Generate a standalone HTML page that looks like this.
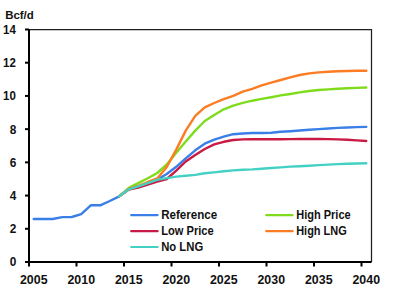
<!DOCTYPE html>
<html><head><meta charset="utf-8"><style>
html,body{margin:0;padding:0;background:#fff;width:397px;height:298px;overflow:hidden}
svg{display:block}
.t{font-family:"Liberation Sans",sans-serif;font-weight:bold;font-size:11px;fill:#1a1a1a}
.ty{font-family:"Liberation Sans",sans-serif;font-weight:bold;font-size:11.5px;fill:#111}
.tyl{font-family:"Liberation Sans",sans-serif;font-weight:bold;font-size:12px;fill:#111}
.tl{font-family:"Liberation Sans",sans-serif;font-weight:bold;font-size:12px;fill:#111}
.tx{font-family:"Liberation Sans",sans-serif;font-weight:bold;font-size:12.4px;fill:#111}
</style></head><body>
<svg width="397" height="298" viewBox="0 0 397 298">
<path d="M29,29.5H371.5V262" fill="none" stroke="#1e1e1e" stroke-width="1.25"/>
<path d="M29,29.5V263" stroke="#000" stroke-width="2" fill="none"/>
<path d="M28,262H371.5" stroke="#000" stroke-width="2" fill="none"/>
<path d="M25,262.00H29" stroke="#000" stroke-width="2"/>
<path d="M25,228.79H29" stroke="#000" stroke-width="2"/>
<path d="M25,195.57H29" stroke="#000" stroke-width="2"/>
<path d="M25,162.36H29" stroke="#000" stroke-width="2"/>
<path d="M25,129.14H29" stroke="#000" stroke-width="2"/>
<path d="M25,95.93H29" stroke="#000" stroke-width="2"/>
<path d="M25,62.71H29" stroke="#000" stroke-width="2"/>
<path d="M25,29.50H29" stroke="#000" stroke-width="2"/>
<path d="M29.00,262V266.5" stroke="#000" stroke-width="2"/>
<path d="M76.50,262V266.5" stroke="#000" stroke-width="2"/>
<path d="M124.00,262V266.5" stroke="#000" stroke-width="2"/>
<path d="M171.50,262V266.5" stroke="#000" stroke-width="2"/>
<path d="M219.00,262V266.5" stroke="#000" stroke-width="2"/>
<path d="M266.50,262V266.5" stroke="#000" stroke-width="2"/>
<path d="M314.00,262V266.5" stroke="#000" stroke-width="2"/>
<path d="M361.50,262V266.5" stroke="#000" stroke-width="2"/>
<polyline points="33.75,219.00 43.25,219.00 52.75,219.00 62.25,217.10 71.75,217.00 81.25,214.20 90.75,205.30 100.25,205.30 109.75,201.00 119.25,196.30 128.75,189.20 138.25,186.50 147.75,183.20 157.25,179.60 166.75,174.00 176.25,166.80 185.75,158.30 195.25,150.30 204.75,143.70 214.25,139.60 223.75,136.60 233.25,134.20 242.75,133.50 252.25,133.00 261.75,133.00 271.25,132.70 280.75,131.80 290.25,131.20 299.75,130.50 309.25,129.80 318.75,129.10 328.25,128.50 337.75,127.90 347.25,127.50 356.75,127.10 366.25,126.90" fill="none" stroke="#3a7fe8" stroke-width="2.4" stroke-linejoin="round" stroke-linecap="round"/>
<polyline points="119.25,196.30 128.75,187.80 138.25,183.10 147.75,178.30 157.25,173.00 166.75,164.50 176.25,152.80 185.75,141.50 195.25,130.60 204.75,121.00 214.25,115.00 223.75,109.30 233.25,105.70 242.75,102.90 252.25,100.70 261.75,98.90 271.25,97.20 280.75,95.40 290.25,94.00 299.75,92.40 309.25,91.00 318.75,90.00 328.25,89.40 337.75,88.70 347.25,88.30 356.75,87.90 366.25,87.50" fill="none" stroke="#7fdc1c" stroke-width="2.4" stroke-linejoin="round" stroke-linecap="round"/>
<polyline points="119.25,196.30 128.75,189.50 138.25,187.60 147.75,184.50 157.25,181.70 166.75,179.00 176.25,170.60 185.75,161.50 195.25,155.00 204.75,149.00 214.25,144.40 223.75,141.80 233.25,140.00 242.75,139.40 252.25,139.30 261.75,139.30 271.25,139.30 280.75,139.20 290.25,139.10 299.75,139.00 309.25,139.00 318.75,139.00 328.25,139.10 337.75,139.40 347.25,139.80 356.75,140.40 366.25,141.00" fill="none" stroke="#c81a44" stroke-width="2.4" stroke-linejoin="round" stroke-linecap="round"/>
<polyline points="119.25,196.30 128.75,189.00 138.25,185.80 147.75,182.00 157.25,178.50 166.75,167.00 176.25,149.60 185.75,130.60 195.25,115.80 204.75,107.40 214.25,103.00 223.75,99.20 233.25,95.80 242.75,91.70 252.25,88.90 261.75,85.40 271.25,82.70 280.75,80.00 290.25,77.40 299.75,75.00 309.25,73.40 318.75,72.40 328.25,71.80 337.75,71.30 347.25,71.00 356.75,70.80 366.25,70.70" fill="none" stroke="#fb7c22" stroke-width="2.4" stroke-linejoin="round" stroke-linecap="round"/>
<polyline points="119.25,196.30 128.75,189.30 138.25,186.30 147.75,183.10 157.25,179.80 166.75,178.10 176.25,176.60 185.75,175.70 195.25,174.90 204.75,173.30 214.25,172.40 223.75,171.30 233.25,170.40 242.75,169.70 252.25,169.40 261.75,168.70 271.25,168.00 280.75,167.40 290.25,166.60 299.75,166.20 309.25,165.70 318.75,165.10 328.25,164.60 337.75,164.10 347.25,163.80 356.75,163.50 366.25,163.30" fill="none" stroke="#44d1c4" stroke-width="2.4" stroke-linejoin="round" stroke-linecap="round"/>
<path d="M131.2,215.1H157.6" stroke="#3a7fe8" stroke-width="2.2" stroke-linecap="round"/>
<text x="161.2" y="219.0" class="tl" textLength="56" lengthAdjust="spacingAndGlyphs">Reference</text>
<path d="M131.2,231.2H157.6" stroke="#c81a44" stroke-width="2.2" stroke-linecap="round"/>
<text x="161.2" y="235.1" class="tl" textLength="52.5" lengthAdjust="spacingAndGlyphs">Low Price</text>
<path d="M131.2,247.0H157.6" stroke="#44d1c4" stroke-width="2.2" stroke-linecap="round"/>
<text x="161.2" y="250.9" class="tl" textLength="42" lengthAdjust="spacingAndGlyphs">No LNG</text>
<path d="M266.2,215.1H292.6" stroke="#7fdc1c" stroke-width="2.2" stroke-linecap="round"/>
<text x="296.2" y="219.0" class="tl" textLength="54.5" lengthAdjust="spacingAndGlyphs">High Price</text>
<path d="M266.2,231.2H292.6" stroke="#fb7c22" stroke-width="2.2" stroke-linecap="round"/>
<text x="296.2" y="235.1" class="tl" textLength="50.5" lengthAdjust="spacingAndGlyphs">High LNG</text>
<text x="16.3" y="266.40" class="tyl" text-anchor="end" textLength="6.6" lengthAdjust="spacingAndGlyphs">0</text>
<text x="16.3" y="233.19" class="tyl" text-anchor="end" textLength="6.6" lengthAdjust="spacingAndGlyphs">2</text>
<text x="16.3" y="199.97" class="tyl" text-anchor="end" textLength="6.6" lengthAdjust="spacingAndGlyphs">4</text>
<text x="16.3" y="166.76" class="tyl" text-anchor="end" textLength="6.6" lengthAdjust="spacingAndGlyphs">6</text>
<text x="16.3" y="133.54" class="tyl" text-anchor="end" textLength="6.6" lengthAdjust="spacingAndGlyphs">8</text>
<text x="15.9" y="100.33" class="tyl" text-anchor="end" textLength="12.8" lengthAdjust="spacingAndGlyphs">10</text>
<text x="15.9" y="67.11" class="tyl" text-anchor="end" textLength="12.8" lengthAdjust="spacingAndGlyphs">12</text>
<text x="15.9" y="33.90" class="tyl" text-anchor="end" textLength="12.8" lengthAdjust="spacingAndGlyphs">14</text>
<text x="33.75" y="283.7" class="tx" text-anchor="middle">2005</text>
<text x="81.25" y="283.7" class="tx" text-anchor="middle">2010</text>
<text x="128.75" y="283.7" class="tx" text-anchor="middle">2015</text>
<text x="176.25" y="283.7" class="tx" text-anchor="middle">2020</text>
<text x="223.75" y="283.7" class="tx" text-anchor="middle">2025</text>
<text x="271.25" y="283.7" class="tx" text-anchor="middle">2030</text>
<text x="318.75" y="283.7" class="tx" text-anchor="middle">2035</text>
<text x="366.25" y="283.7" class="tx" text-anchor="middle">2040</text>
<text x="5.2" y="18.9" class="ty" textLength="28.6" lengthAdjust="spacingAndGlyphs">Bcf/d</text>
</svg></body></html>
